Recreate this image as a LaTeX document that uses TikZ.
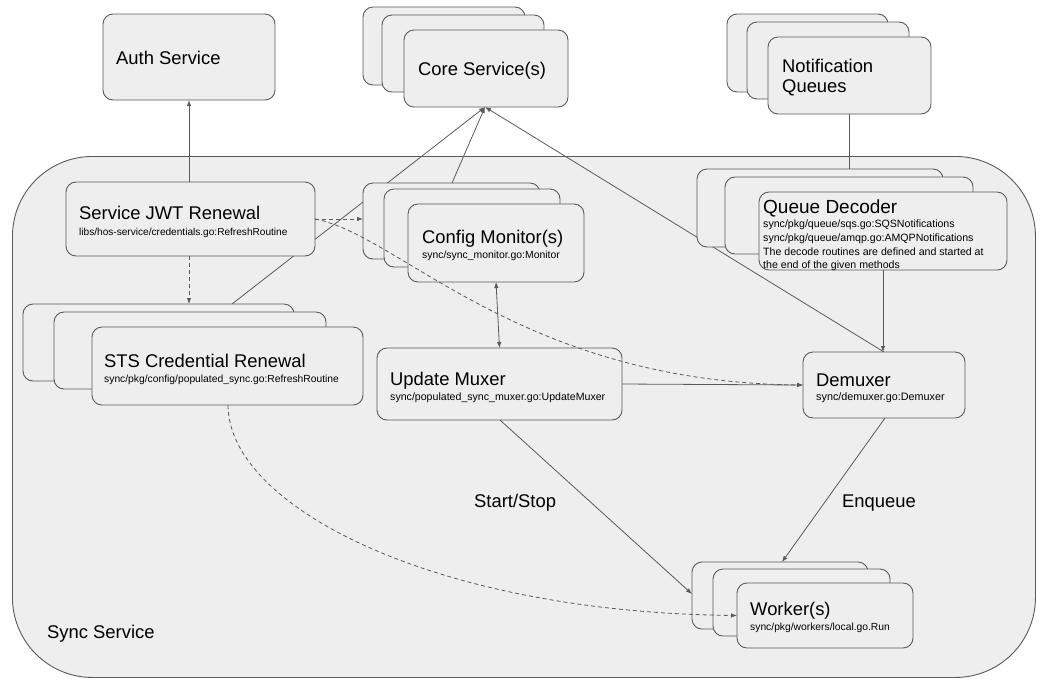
\documentclass[tikz,border=0pt]{standalone}
\usepackage{fontspec}
\setmainfont{Liberation Sans}
\usetikzlibrary{arrows.meta,calc}
\definecolor{boxfill}{HTML}{EEEEEE}
\definecolor{edge}{HTML}{5A5A5A}
\pgfdeclarelayer{back}
\pgfdeclarelayer{mid}
\pgfsetlayers{back,mid,main}
\tikzset{
 box/.style={draw=edge, fill=boxfill, line width=0.9pt, rounded corners=10pt, anchor=north west, inner sep=0pt, outer sep=0pt},
 head/.style={anchor=base west, inner sep=0pt, font=\fontsize{18.4}{20}\selectfont},
 sub/.style={anchor=base west, inner sep=0pt, font=\fontsize{#1}{13}\selectfont},
 sub/.default=10.6,
 conn/.style={draw=edge, line width=0.8pt},
 arr/.style={conn, -{Latex[length=6pt,width=4.5pt]}},
 biarr/.style={conn, {Latex[length=6pt,width=4.5pt]}-{Latex[length=6pt,width=4.5pt]}},
 darr/.style={arr, dash pattern=on 4pt off 3pt},
}
\newcommand\bx[5]{\node[box, minimum width=#4pt, minimum height=#5pt] (#1) at (#2,#3) {};}
\begin{document}
\begin{tikzpicture}[x=1pt,y=-1pt]
\useasboundingbox (0,0) rectangle (1048,689);
% outside services
\bx{auth}{103}{14}{172}{86}
\node[head] (authT) at (116,64) {Auth Service};
\bx{coreb}{363}{7}{162}{78}
\bx{corem}{382}{15}{162}{77}
\bx{coref}{404}{30}{164}{77}
\node[head] (coreT) at (418,75) {Core Service(s)};
\bx{notb}{727}{14}{161}{78}
\bx{notm}{747}{22}{162}{77}
\bx{notf}{768}{37}{163}{77}
\node[head] (notT1) at (782,72) {Notification};
\node[head] (notT2) at (782,92) {Queues};
% sync service container
\begin{pgfonlayer}{back}
\node[draw=edge, fill=boxfill, line width=0.9pt, rounded corners=80pt, minimum width=1023pt, minimum height=521pt, anchor=north west, inner sep=0pt] (sync) at (12,156) {};
\end{pgfonlayer}
\node[head] (syncT) at (47,638) {Sync Service};
% inner components
\bx{jwt}{66}{182}{249}{74}
\node[head] (jwtT) at (79,219.5) {Service JWT Renewal};
\node[sub=10.1] (jwtS) at (79,235) {libs/hos-service/credentials.go:RefreshRoutine};
\bx{stsb}{23}{304}{271}{77}
\bx{stsm}{54}{312}{272}{77}
\bx{stsf}{92}{327}{271}{78}
\node[head] (stsT) at (104,367) {STS Credential Renewal};
\node[sub=10.3] (stsS) at (104,382) {sync/pkg/config/populated\_sync.go:RefreshRoutine};
\bx{cfgb}{363}{183}{177}{76}
\bx{cfgm}{384}{189}{176}{78}
\bx{cfgf}{408}{204}{176}{78}
\node[head] (cfgT) at (422,243) {Config Monitor(s)};
\node[sub=10.4] (cfgS) at (422,258.5) {sync/sync\_monitor.go:Monitor};
\bx{mux}{377}{348}{245}{72}
\node[head] (muxT) at (390,385.5) {Update Muxer};
\node[sub=10.6] (muxS) at (390,400) {sync/populated\_sync\_muxer.go:UpdateMuxer};
\bx{qdb}{697}{169}{246}{78}
\bx{qdm}{725}{177}{248}{77}
\bx{qdf}{759}{192}{248}{78}
\node[head, font=\fontsize{19}{21}\selectfont] (qdT) at (763,213) {Queue Decoder};
\node[sub=10.6] (qd1) at (763,227) {sync/pkg/queue/sqs.go:SQSNotifications};
\node[sub=10.6] (qd2) at (763,241) {sync/pkg/queue/amqp.go:AMQPNotifications};
\node[sub=10.6] (qd3) at (763,255) {The decode routines are defined and started at};
\node[sub=10.6] (qd4) at (763,268.5) {the end of the given methods};
\bx{dmx}{803}{352}{162}{66}
\node[head] (dmxT) at (816,386) {Demuxer};
\node[sub=10.8] (dmxS) at (816,400) {sync/demuxer.go:Demuxer};
\bx{wkb}{692}{562}{176}{67}
\bx{wkm}{713}{569}{177}{67}
\bx{wkf}{737}{583}{176}{65}
\node[head] (wkT) at (750,615) {Worker(s)};
\node[sub=10.3] (wkS) at (750,630) {sync/pkg/workers/local.go.Run};
% labels
\node[head] (ssT) at (474,507) {Start/Stop};
\node[head] (enqT) at (842,507) {Enqueue};
% connectors behind the boxes
\coordinate (coretip) at (485,107);
\begin{pgfonlayer}{mid}
\draw[arr] ($(stsb.north west)+(209,0)$) -- (coretip);
\draw[arr] ($(cfgb.north west)+(89,0)$) -- (coretip);
\draw[arr] (dmx.north) -- (coretip);
\end{pgfonlayer}
% other connectors
\draw[arr] (jwt.north -| auth.south) -- (auth.south);
\draw[darr] (jwt.south -| auth.south) -- (auth.south |- stsb.north);
\draw[darr] (jwt.east) -- (cfgb.west |- jwt.east);
\draw[darr] (jwt.east) .. controls (400,235) and (520,382) .. (dmx.west);
\draw[conn] (notf.south) -- (notf.south |- qdb.north);
\draw[arr] (qdf.south) -- (qdf.south |- dmx.north);
\draw[biarr] (cfgf.south) -- (mux.north);
\draw[arr] (mux.east) -- (dmx.west);
\coordinate (wkin) at ($(wkb.north west)+(0,32)$);
\draw[arr] ($(mux.south west)+(123,0)$) -- (wkin);
\coordinate (wktop) at ($(wkb.north west)+(90,0)$);
\draw[arr] ($(dmx.south west)+(82,0)$) -- (wktop);
\draw[darr] ($(stsf.south west)+(136,0)$) .. controls (228,505) and (430,612) .. (wkf.west);
\end{tikzpicture}
\end{document}
